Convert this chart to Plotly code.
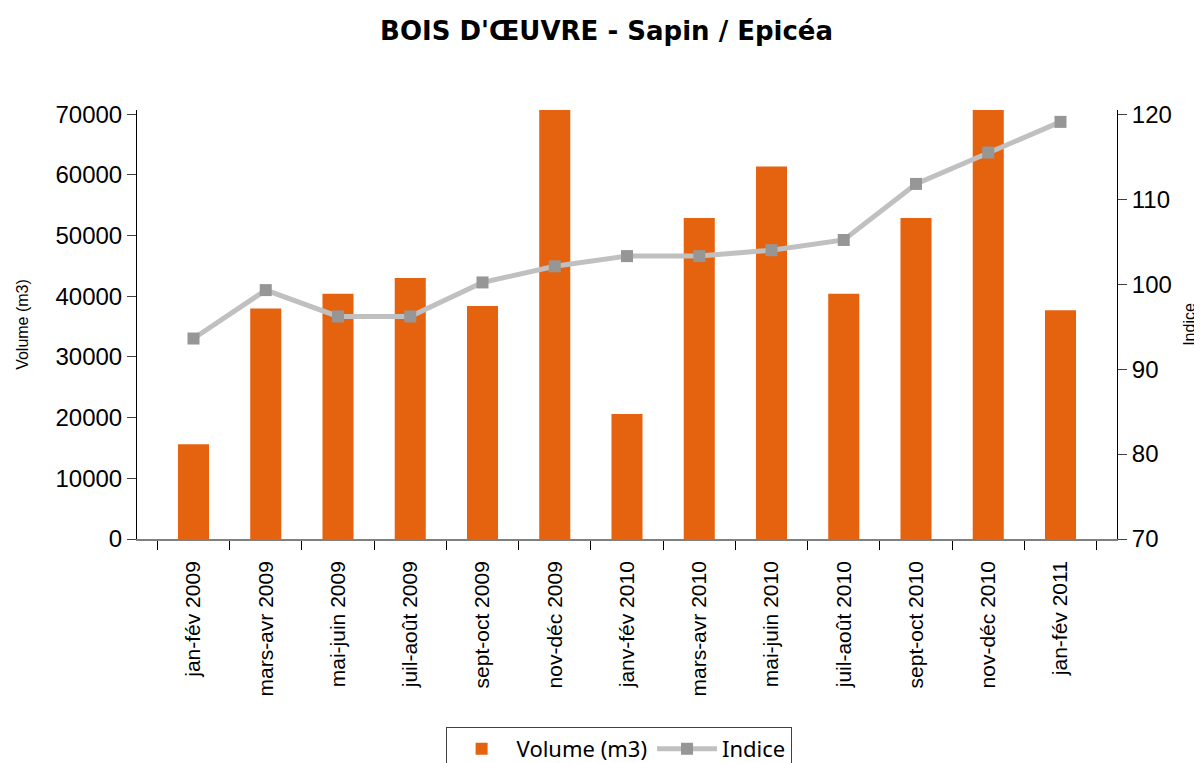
import plotly.graph_objects as go

categories = ["jan-fév 2009", "mars-avr 2009", "mai-juin 2009", "juil-août 2009",
              "sept-oct 2009", "nov-déc 2009", "janv-fév 2010", "mars-avr 2010",
              "mai-juin 2010", "juil-août 2010", "sept-oct 2010", "nov-déc 2010",
              "jan-fév 2011"]
volume = [15600, 38000, 40400, 43000, 38400, 70700, 20600, 52900, 61400, 40400, 52900, 70700, 37700]
indice = [93.6, 99.3, 96.2, 96.2, 100.2, 102.1, 103.3, 103.3, 104.0, 105.2, 111.8, 115.5, 119.1]

left_ticks = [0, 10000, 20000, 30000, 40000, 50000, 60000, 70000]
left_labels = ["0", "10000", "20000", "30000", "40000", "50000", "60000", "70000"]
right_ticks = [70, 80, 90, 100, 110, 120]

ymax = 70700
y2max = 70 + 50 * ymax / 70000

fig = go.Figure()
fig.add_trace(go.Bar(x=categories, y=volume, name="Volume (m3)",
                     marker=dict(color="#E5630F", line=dict(width=0)), yaxis="y"))
fig.add_trace(go.Scatter(x=categories, y=indice, name="Indice", mode="lines+markers",
                         line=dict(color="#C0C0C0", width=5),
                         marker=dict(symbol="square", size=12, color="#969696"),
                         yaxis="y2"))

fig.update_layout(
    width=1202, height=763,
    margin=dict(l=129, r=93, t=102, b=232, autoexpand=False),
    paper_bgcolor="white", plot_bgcolor="white",
    title=dict(text="<b>BOIS D'ŒUVRE - Sapin / Epicéa</b>", x=0.498, xanchor="center",
               y=1 - 23 / 763, yanchor="middle",
               font=dict(family="DejaVu Sans", size=26, color="black")),
    bargap=0.57,
    showlegend=True,
    legend=dict(orientation="h", xref="container", yref="container",
                x=0.508, xanchor="center", y=1 - 719 / 763, yanchor="top",
                bordercolor="#404040", borderwidth=1,
                font=dict(family="Noto Sans", size=22, color="black"),
                itemwidth=60),
    xaxis=dict(type="category", tickangle=-90, tickson="boundaries",
               ticks="outside", ticklen=9, tickcolor="black",
               showline=True, linecolor="#808080", linewidth=1.5,
               tickfont=dict(family="Arial", size=21, color="black"),
               ticklabelstandoff=12,
               showgrid=False, automargin=False),
    yaxis=dict(range=[0, ymax], tickvals=left_ticks, ticktext=left_labels,
               ticks="outside", ticklen=9, tickcolor="#404040",
               showline=True, linecolor="black", linewidth=1,
               tickfont=dict(family="Arial", size=24, color="black"),
               showgrid=False, zeroline=False, automargin=False,
               title=dict(text="Volume (m3)", font=dict(family="Arial", size=16, color="black"),
                          standoff=22)),
    yaxis2=dict(range=[70, y2max], tickvals=right_ticks, overlaying="y", side="right",
                ticks="outside", ticklen=9, tickcolor="#404040",
                showline=True, linecolor="black", linewidth=1,
                tickfont=dict(family="Arial", size=24, color="black"),
                showgrid=False, zeroline=False, automargin=False,
                title=dict(text="Indice", font=dict(family="Arial", size=16, color="black"),
                           standoff=12)),
)

fig.write_html("out.html")
